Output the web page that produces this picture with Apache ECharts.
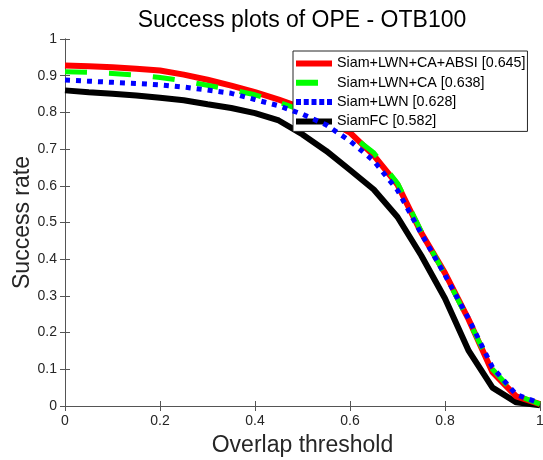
<!DOCTYPE html>
<html>
<head>
<meta charset="utf-8">
<script src="https://cdn.jsdelivr.net/npm/echarts@6/dist/echarts.min.js"></script>
<style>
  html, body { margin: 0; padding: 0; background: #fff; }
  #chart { width: 543px; height: 460px; }
</style>
</head>
<body>
<div id="chart"></div>
<script>
// overlap thresholds 0:0.05:1
const thresholds = [0, 0.05, 0.1, 0.15, 0.2, 0.25, 0.3, 0.35, 0.4, 0.45, 0.5,
  0.55, 0.6, 0.65, 0.7, 0.75, 0.8, 0.85, 0.9, 0.95, 1];

const seriesNames = ['Siam+LWN+CA+ABSI [0.645]', 'Siam+LWN+CA [0.638]', 'Siam+LWN [0.628]', 'SiamFC [0.582]'];

const absiRate = [0.928, 0.926, 0.923, 0.919, 0.914, 0.903, 0.889, 0.873, 0.855, 0.835, 0.812,
  0.783, 0.745, 0.683, 0.603, 0.472, 0.362, 0.235, 0.092, 0.026, 0.005];
const caRate = [0.911, 0.909, 0.906, 0.902, 0.895, 0.886, 0.874, 0.862, 0.848, 0.828, 0.805,
  0.776, 0.740, 0.690, 0.607, 0.476, 0.358, 0.232, 0.100, 0.030, 0.005];
const lwnRate = [0.888, 0.885, 0.882, 0.879, 0.875, 0.869, 0.861, 0.852, 0.835, 0.818, 0.795,
  0.766, 0.722, 0.668, 0.588, 0.470, 0.357, 0.237, 0.105, 0.031, 0.008];
const siamfcRate = [0.860, 0.855, 0.851, 0.846, 0.840, 0.833, 0.822, 0.812, 0.798, 0.778, 0.740,
  0.695, 0.643, 0.590, 0.515, 0.410, 0.293, 0.150, 0.050, 0.010, 0.002];

const xTicks = [0, 0.2, 0.4, 0.6, 0.8, 1];
const yTicks = [0, 0.1, 0.2, 0.3, 0.4, 0.5, 0.6, 0.7, 0.8, 0.9, 1];

const pairs = vals => thresholds.map((t, i) => [t, vals[i]]);

// legend samples drawn as paths (36x6 box): solid, dash, dots, solid
const legendIcons = [
  'path://M0,0h36v6h-36z',
  'path://M0,0h22v6h-22zM35.9,2.9h0.1v0.2h-0.1z',
  'path://M0,0h5v6h-5zM7.75,0h5v6h-5zM15.5,0h5v6h-5zM23.25,0h5v6h-5zM31,0h5v6h-5z',
  'path://M0,0h36v6h-36z'
];

const chart = echarts.init(document.getElementById('chart'));

const font = 'Liberation Sans, Arial, sans-serif';
const axisLine = { show: true, lineStyle: { color: '#555', width: 1 } };
const tickIn = { show: true, inside: true, length: 5, lineStyle: { color: '#555' } };
const labelStyle = { color: '#262626', fontSize: 14, fontFamily: font };

const option = {
  animation: false,
  backgroundColor: '#fff',
  title: {
    text: 'Success plots of OPE - OTB100',
    left: 297, top: 4, textAlign: 'center',
    textStyle: { fontSize: 23, fontWeight: 'normal', color: '#000', fontFamily: font }
  },
  grid: { left: 65, right: 3, top: 39, bottom: 54, outerBoundsMode: 'none', containLabel: false },
  legend: {
    orient: 'vertical',
    left: 293, top: 51,
    padding: [4.5, 2, 2, 3],
    itemGap: 3.3,
    itemWidth: 36, itemHeight: 6,
    symbolKeepAspect: false,
    borderColor: '#262626', borderWidth: 1,
    backgroundColor: '#fff',
    textStyle: { color: '#000', fontSize: 14.3, lineHeight: 16, fontFamily: font },
    data: seriesNames.map((n, i) => ({ name: n, icon: legendIcons[i] }))
  },
  xAxis: [{
    type: 'value', min: 0, max: 1, interval: 0.2,
    name: 'Overlap threshold', nameLocation: 'middle', nameGap: 28, nameMoveOverlap: false,
    nameTextStyle: { fontSize: 23, color: '#262626', fontFamily: font },
    axisLine, axisTick: tickIn, splitLine: { show: false },
    axisLabel: Object.assign({ margin: 8, formatter: v => xTicks.includes(+v.toFixed(1)) ? String(+v.toFixed(1)) : '' }, labelStyle)
  }, {
    type: 'value', min: 0, max: 1, interval: 0.2, position: 'top',
    axisLine, axisTick: tickIn, splitLine: { show: false }, axisLabel: { show: false }
  }],
  yAxis: [{
    type: 'value', min: 0, max: 1, interval: 0.1,
    name: 'Success rate', nameLocation: 'middle', nameGap: 31, nameMoveOverlap: false,
    nameTextStyle: { fontSize: 23, color: '#262626', fontFamily: font },
    axisLine, axisTick: tickIn, splitLine: { show: false },
    axisLabel: Object.assign({ margin: 8, formatter: v => yTicks.includes(+v.toFixed(1)) ? String(+v.toFixed(1)) : '' }, labelStyle)
  }, {
    type: 'value', min: 0, max: 1, interval: 0.1, position: 'right',
    axisLine, axisTick: tickIn, splitLine: { show: false }, axisLabel: { show: false }
  }],
  series: [
    {
      name: seriesNames[0], type: 'line', data: pairs(absiRate), symbol: 'none', smooth: false,
      lineStyle: { color: '#ff0000', width: 6 }, itemStyle: { color: '#ff0000' }, z: 2
    },
    {
      name: seriesNames[1], type: 'line', data: pairs(caRate), symbol: 'none', smooth: false,
      lineStyle: { color: '#00ff00', width: 5, type: [22, 22], cap: 'butt' }, itemStyle: { color: '#00ff00' }, z: 3
    },
    {
      name: seriesNames[2], type: 'line', data: pairs(lwnRate), symbol: 'none', smooth: false,
      lineStyle: { color: '#0000ff', width: 5, type: [5, 6], cap: 'butt' }, itemStyle: { color: '#0000ff' }, z: 4
    },
    {
      name: seriesNames[3], type: 'line', data: pairs(siamfcRate), symbol: 'none', smooth: false,
      lineStyle: { color: '#000000', width: 6 }, itemStyle: { color: '#000000' }, z: 1
    }
  ]
};

chart.setOption(option);
</script>
</body>
</html>
